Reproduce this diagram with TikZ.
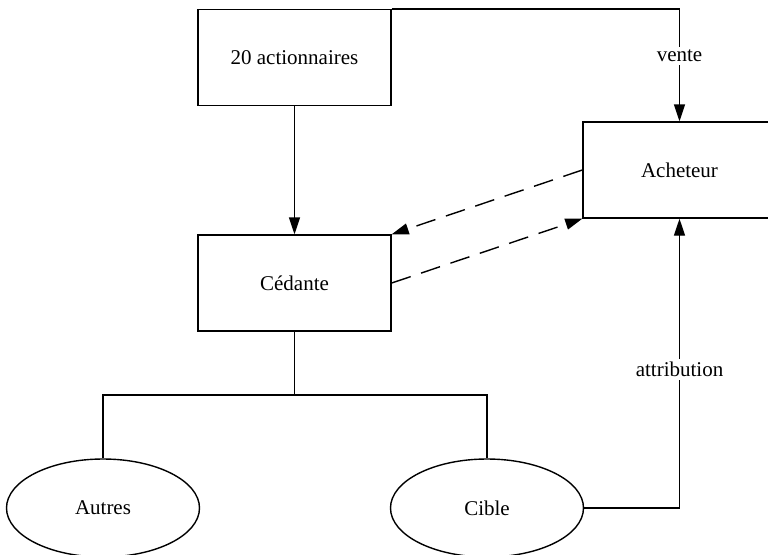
\documentclass[tikz,border=0pt]{standalone}
\usepackage{fontspec}
\setmainfont{Liberation Serif}
\usetikzlibrary{arrows.meta,shapes.geometric}

\begin{document}
\begin{tikzpicture}[x=0.5pt, y=-0.5pt, line width=0.7pt, every node/.style={font=\fontsize{10.5}{12}\selectfont}, box/.style={draw,minimum width=96.5pt,minimum height=48pt,inner sep=0pt}, oval/.style={draw,ellipse,minimum width=96.5pt,minimum height=49pt,inner sep=0pt}, arr/.style={-{Triangle[length=8.5pt,width=5.5pt]}}, dsh/.style={dash pattern=on 10pt off 5.5pt}, lbl/.style={fill=white,inner sep=1.5pt}]
\useasboundingbox (0,0) rectangle (768,554);
\node[box] (act) at (294.5,57.5) {20 actionnaires};
\node[box] (ced) at (294.5,283) {Cédante};
\node[box] (ach) at (679.5,170) {Acheteur};
\node[oval] (aut) at (103,508) {Autres};
\node[oval] (cib) at (487,508) {Cible};
\coordinate (fork) at (294.5,395);
\draw[arr] (act) -- (ced);
\draw[arr] (act.north east) -| node[lbl,pos=0.71]{vente} (ach);
\draw[arr,dsh] (ach.west) -- (ced.north east);
\draw[arr,dsh] (ced.east) -- (ach.south west);
\draw (ced) -- (fork);
\draw (aut) |- (fork) -| (cib);
\draw[arr] (cib) -| node[lbl,pos=0.74]{attribution} (ach);
\end{tikzpicture}
\end{document}
